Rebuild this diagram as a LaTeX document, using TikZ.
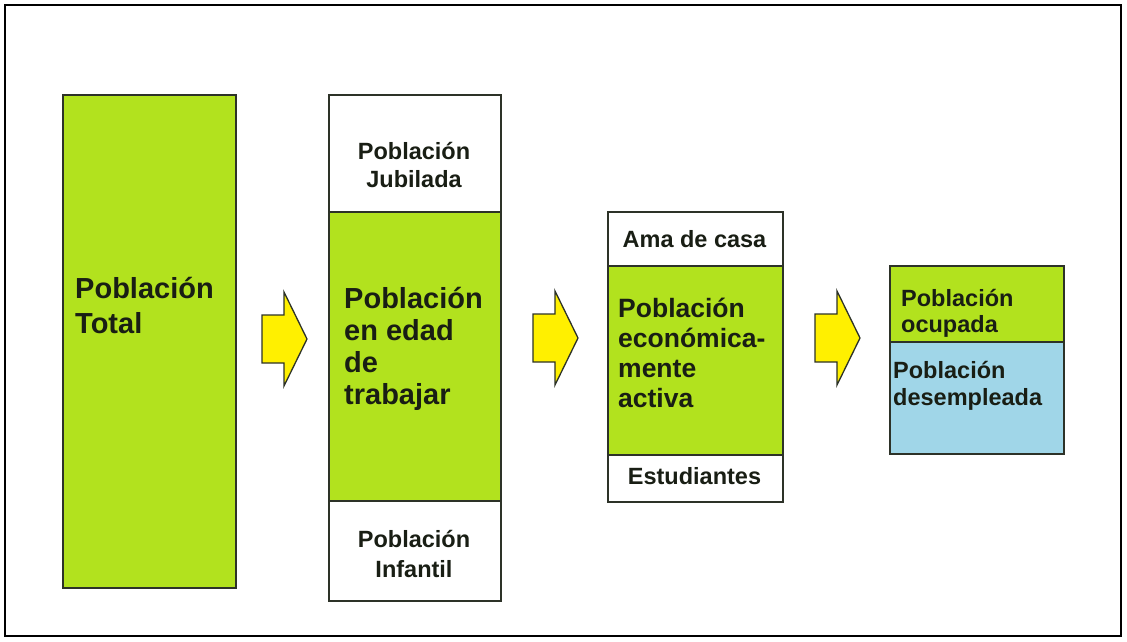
\documentclass[tikz,border=0pt]{standalone}
\usepackage{fontspec}
\usetikzlibrary{calc}
\setmainfont{Liberation Sans}
\definecolor{boxgreen}{RGB}{178,226,30}
\definecolor{boxblue}{RGB}{160,214,232}
\definecolor{boxline}{RGB}{45,50,40}
\definecolor{arrowyellow}{RGB}{255,240,0}
\definecolor{txt}{RGB}{25,30,20}
\tikzset{
  box/.style={draw=boxline, line width=1.6pt, inner sep=0pt, anchor=north west},
  bigtxt/.style={font=\fontsize{29}{30}\selectfont\bfseries, text=txt, inner sep=0pt, anchor=base west},
  smalltxt/.style={font=\fontsize{23.5}{26}\selectfont\bfseries, text=txt, inner sep=0pt, anchor=base},
  smalltxtl/.style={font=\fontsize{23.5}{26}\selectfont\bfseries, text=txt, inner sep=0pt, anchor=base west},
  midtxt/.style={font=\fontsize{26.5}{28}\selectfont\bfseries, text=txt, inner sep=0pt, anchor=base west},
  yarrow/.style={fill=arrowyellow, draw=boxline, line width=1.3pt, line join=miter}
}
\begin{document}
\begin{tikzpicture}[x=1pt,y=-1pt]
\useasboundingbox (0,0) rectangle (1127,641);
\draw[line width=1.2pt, draw=black] (5,5) rectangle (1121,636);

% Box 1
\node[box, fill=boxgreen, minimum width=173, minimum height=493] (b1) at (62,94) {};
\node[bigtxt] (t1a) at (75,298) {Población};
\node[bigtxt] (t1b) at (75,333) {Total};

% Arrows
\coordinate (a1) at (262,339);
\coordinate (a2) at (533,338);
\coordinate (a3) at (815,338);
\foreach \a in {a1,a2,a3}
  \draw[yarrow] ($(\a)+(0,-24)$) -- ++(22,0) -- ++(0,-23) -- ++(23,47) -- ++(-23,47) -- ++(0,-23) -- ++(-22,0) -- cycle;

% Box 2
\node[box, fill=white, minimum width=172, minimum height=117] (b2a) at (328,94) {};
\node[box, fill=boxgreen, minimum width=172, minimum height=289] (b2b) at (328,211) {};
\node[box, fill=white, minimum width=172, minimum height=100] (b2c) at (328,500) {};
\node[smalltxt] (t2a) at (414,159) {Población};
\node[smalltxt] (t2b) at (414,187) {Jubilada};
\node[bigtxt] (t2c) at (344,308) {Población};
\node[bigtxt] (t2d) at (344,340) {en edad};
\node[bigtxt] (t2e) at (344,372) {de};
\node[bigtxt] (t2f) at (344,404) {trabajar};
\node[smalltxt] (t2g) at (414,547) {Población};
\node[smalltxt] (t2h) at (414,577) {Infantil};

% Box 3
\node[box, fill=white, minimum width=175, minimum height=54] (b3a) at (607,211) {};
\node[box, fill=boxgreen, minimum width=175, minimum height=189] (b3b) at (607,265) {};
\node[box, fill=white, minimum width=175, minimum height=47] (b3c) at (607,454) {};
\node[smalltxt] (t3a) at (694.5,247) {Ama de casa};
\node[midtxt] (t3b) at (618,317) {Población};
\node[midtxt] (t3c) at (618,347) {económica-};
\node[midtxt] (t3d) at (618,377) {mente};
\node[midtxt] (t3e) at (618,407) {activa};
\node[smalltxt] (t3f) at (694.5,484) {Estudiantes};

% Box 4
\node[box, fill=boxgreen, minimum width=174, minimum height=76] (b4a) at (889,265) {};
\node[box, fill=boxblue, minimum width=174, minimum height=112] (b4b) at (889,341) {};
\node[smalltxtl] (t4a) at (901,306) {Población};
\node[smalltxtl] (t4b) at (901,332) {ocupada};
\node[smalltxtl] (t4c) at (893,378) {Población};
\node[smalltxtl] (t4d) at (893,405) {desempleada};
\end{tikzpicture}
\end{document}
